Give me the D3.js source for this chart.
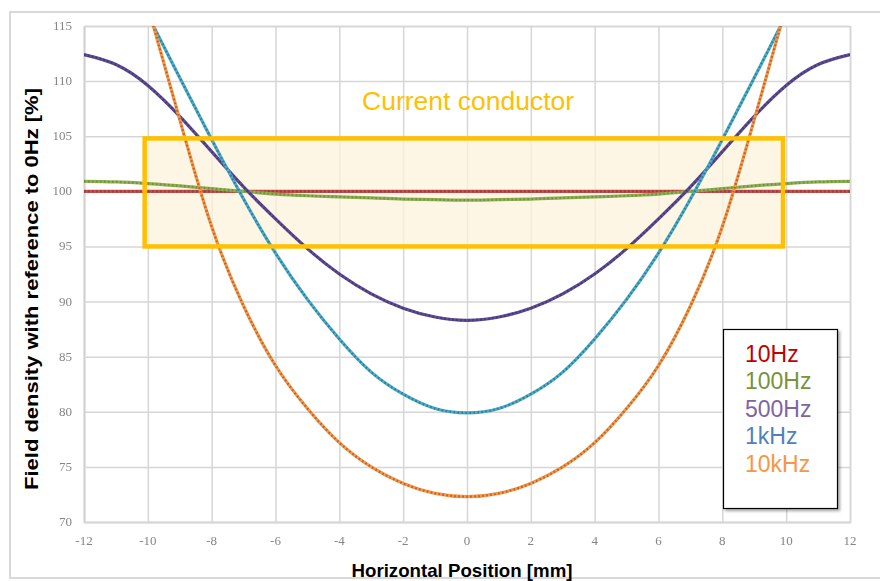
<!DOCTYPE html>
<html>
<head>
<meta charset="utf-8">
<script src="https://cdn.jsdelivr.net/npm/d3@7"></script>
<style>
  html, body { margin: 0; padding: 0; background: #ffffff; }
  svg { display: block; }
</style>
</head>
<body>
<svg id="chart" width="880" height="581"></svg>
<script>
// Horizontal position along the conductor [mm]
const positions = [-12, -11, -10, -9, -8, -7, -6, -5, -4, -3, -2, -1, 0, 1, 2, 3, 4, 5, 6, 7, 8, 9, 10, 11, 12];

// Field density relative to 0 Hz [%], one array per frequency
const f10Hz   = [100, 100, 100, 100, 100, 100, 100, 100, 100, 100, 100, 100, 100, 100, 100, 100, 100, 100, 100, 100, 100, 100, 100, 100, 100];
const f100Hz  = [100.9, 100.85, 100.7, 100.5, 100.25, 100.0, 99.75, 99.6, 99.5, 99.4, 99.3, 99.25, 99.2, 99.25, 99.3, 99.4, 99.5, 99.6, 99.75, 100.0, 100.25, 100.5, 100.7, 100.85, 100.9];
const f500Hz  = [112.4, 111.5, 109.6, 106.8, 103.6, 100.4, 97.5, 94.8, 92.5, 90.7, 89.4, 88.6, 88.3, 88.6, 89.4, 90.7, 92.5, 94.8, 97.5, 100.4, 103.6, 106.8, 109.6, 111.5, 112.4];
const f1kHz   = [null, null, 116.0, 110.3, 104.7, 99.3, 94.4, 90.2, 86.6, 83.6, 81.6, 80.3, 79.9, 80.3, 81.6, 83.6, 86.6, 90.2, 94.4, 99.3, 104.7, 110.3, 116.0, null, null];
const f10kHz  = [null, null, 116.8, 106.5, 96.8, 89.6, 84.2, 80.3, 77.2, 75.0, 73.5, 72.6, 72.3, 72.6, 73.5, 75.0, 77.2, 80.3, 84.2, 89.6, 96.8, 106.5, 116.8, null, null];

const seriesNames = ["10Hz", "100Hz", "500Hz", "1kHz", "10kHz"];
const seriesValues = [f10Hz, f100Hz, f500Hz, f1kHz, f10kHz];

// Axis ticks
const xTicks = [-12, -10, -8, -6, -4, -2, 0, 2, 4, 6, 8, 10, 12];
const yTicks = [70, 75, 80, 85, 90, 95, 100, 105, 110, 115];

// Highlighted conductor region (x from/to, y from/to)
const conductorX = [-10.1, 9.9];
const conductorY = [95, 104.8];

// Styling
const lineColors   = ["#c0504d", "#8fb055", "#5e4d92", "#4bacc6", "#f79646"];
const markerColors = ["#963533", "#6b8a37", "#3e3270", "#2b6e8c", "#9c5a2c"];
const legendColors = ["#c00000", "#77933c", "#8064a2", "#4f81bd", "#f79646"];

const svg = d3.select("#chart");
const W = 880, H = 581;
const plot = { left: 84, right: 850, top: 26, bottom: 522 };

const x = d3.scaleLinear().domain([-12, 12]).range([plot.left, plot.right]);
const y = d3.scaleLinear().domain([70, 115]).range([plot.bottom, plot.top]);

const defs = svg.append("defs");
defs.append("clipPath").attr("id", "plotClip")
  .append("rect")
  .attr("x", plot.left).attr("y", plot.top)
  .attr("width", plot.right - plot.left).attr("height", plot.bottom - plot.top);
// Soft blur, defined in user space so flat (zero-height) paths still render
defs.append("filter").attr("id", "soft")
  .attr("filterUnits", "userSpaceOnUse")
  .attr("x", 0).attr("y", 0).attr("width", W).attr("height", H)
  .append("feGaussianBlur").attr("stdDeviation", 0.45);
const sh = defs.append("filter").attr("id", "shadow")
  .attr("x", "-10%").attr("y", "-10%").attr("width", "130%").attr("height", "130%");
sh.append("feDropShadow").attr("dx", 2).attr("dy", 2).attr("stdDeviation", 1.5)
  .attr("flood-color", "#000").attr("flood-opacity", 0.35);

// Outer frame
svg.append("rect")
  .attr("x", 10).attr("y", 12).attr("width", 880).attr("height", 566)
  .attr("fill", "#ffffff").attr("stroke", "#d9d9d9").attr("stroke-width", 2);

// Gridlines via axes
const grid = svg.append("g").attr("filter", "url(#soft)");
grid.append("g")
  .attr("transform", `translate(0,${plot.bottom})`)
  .call(d3.axisBottom(x).tickValues(xTicks).tickSize(-(plot.bottom - plot.top)).tickFormat(""))
  .call(g => g.select(".domain").attr("stroke", "#cfcfcf").attr("stroke-width", 1.5))
  .call(g => g.selectAll(".tick line").attr("stroke", "#d6d6d6").attr("stroke-width", 1.5));
grid.append("g")
  .attr("transform", `translate(${plot.left},0)`)
  .call(d3.axisLeft(y).tickValues(yTicks).tickSize(-(plot.right - plot.left)).tickFormat(""))
  .call(g => g.select(".domain").attr("stroke", "#cfcfcf").attr("stroke-width", 1.5))
  .call(g => g.selectAll(".tick line").attr("stroke", "#d6d6d6").attr("stroke-width", 1.5));

// Tick labels
const labels = svg.append("g").attr("filter", "url(#soft)")
  .attr("font-family", "'Liberation Serif', serif").attr("font-size", 13).attr("fill", "#858585");
labels.selectAll("text.yl").data(yTicks).join("text")
  .attr("class", "yl")
  .attr("x", 72).attr("y", d => y(d) + 4)
  .attr("text-anchor", "end")
  .text(d => d);
labels.selectAll("text.xl").data(xTicks).join("text")
  .attr("class", "xl")
  .attr("x", d => x(d)).attr("y", 545)
  .attr("text-anchor", "middle")
  .text(d => d);

// Conductor region fill
svg.append("rect")
  .attr("x", x(conductorX[0])).attr("y", y(conductorY[1]))
  .attr("width", x(conductorX[1]) - x(conductorX[0]))
  .attr("height", y(conductorY[0]) - y(conductorY[1]))
  .attr("fill", "#fdf3dc").attr("fill-opacity", 0.75);

// Curves
const line = d3.line()
  .defined(d => d.v != null)
  .x(d => x(d.p)).y(d => y(d.v))
  .curve(d3.curveNatural);

const curves = svg.append("g").attr("clip-path", "url(#plotClip)");
seriesValues.forEach((vals, i) => {
  const pts = positions.map((p, k) => ({ p, v: vals[k] }));
  const g = curves.append("g").attr("filter", "url(#soft)");
  g.append("path").datum(pts)
    .attr("d", line).attr("fill", "none")
    .attr("stroke", lineColors[i]).attr("stroke-width", 3.2);
  g.append("path").datum(pts)
    .attr("d", line).attr("fill", "none")
    .attr("stroke", markerColors[i]).attr("stroke-width", 2.2)
    .attr("stroke-dasharray", "1.6,2.4").attr("stroke-opacity", 0.8);
});

// Conductor outline
svg.append("rect")
  .attr("x", x(conductorX[0])).attr("y", y(conductorY[1]))
  .attr("width", x(conductorX[1]) - x(conductorX[0]))
  .attr("height", y(conductorY[0]) - y(conductorY[1]))
  .attr("fill", "none").attr("stroke", "#ffc000").attr("stroke-width", 4.5);

svg.append("text")
  .attr("x", 362).attr("y", 110)
  .attr("font-family", "Arial, 'Liberation Sans', sans-serif").attr("font-size", 26.5)
  .attr("fill", "#ffc000")
  .text("Current conductor");

// Legend
const legend = svg.append("g");
legend.append("rect")
  .attr("x", 723.5).attr("y", 329.5).attr("width", 114).attr("height", 179)
  .attr("fill", "#ffffff").attr("stroke", "#000").attr("stroke-width", 1.2)
  .attr("filter", "url(#shadow)");
legend.selectAll("text").data(seriesNames).join("text")
  .attr("x", 745).attr("y", (d, i) => 362 + i * 27.4)
  .attr("font-family", "Arial, 'Liberation Sans', sans-serif").attr("font-size", 23)
  .attr("fill", (d, i) => legendColors[i])
  .text(d => d);

// Axis titles
svg.append("text")
  .attr("x", 462).attr("y", 577)
  .attr("text-anchor", "middle")
  .attr("font-family", "Arial, 'Liberation Sans', sans-serif").attr("font-size", 18.5)
  .attr("font-weight", "bold").attr("fill", "#000")
  .attr("textLength", 221).attr("lengthAdjust", "spacingAndGlyphs")
  .text("Horizontal Position [mm]");
svg.append("text")
  .attr("transform", "translate(38,289) rotate(-90)")
  .attr("text-anchor", "middle")
  .attr("font-family", "Arial, 'Liberation Sans', sans-serif").attr("font-size", 18.5)
  .attr("font-weight", "bold").attr("fill", "#000")
  .attr("textLength", 402).attr("lengthAdjust", "spacingAndGlyphs")
  .text("Field density with reference to 0Hz [%]");
</script>
</body>
</html>
